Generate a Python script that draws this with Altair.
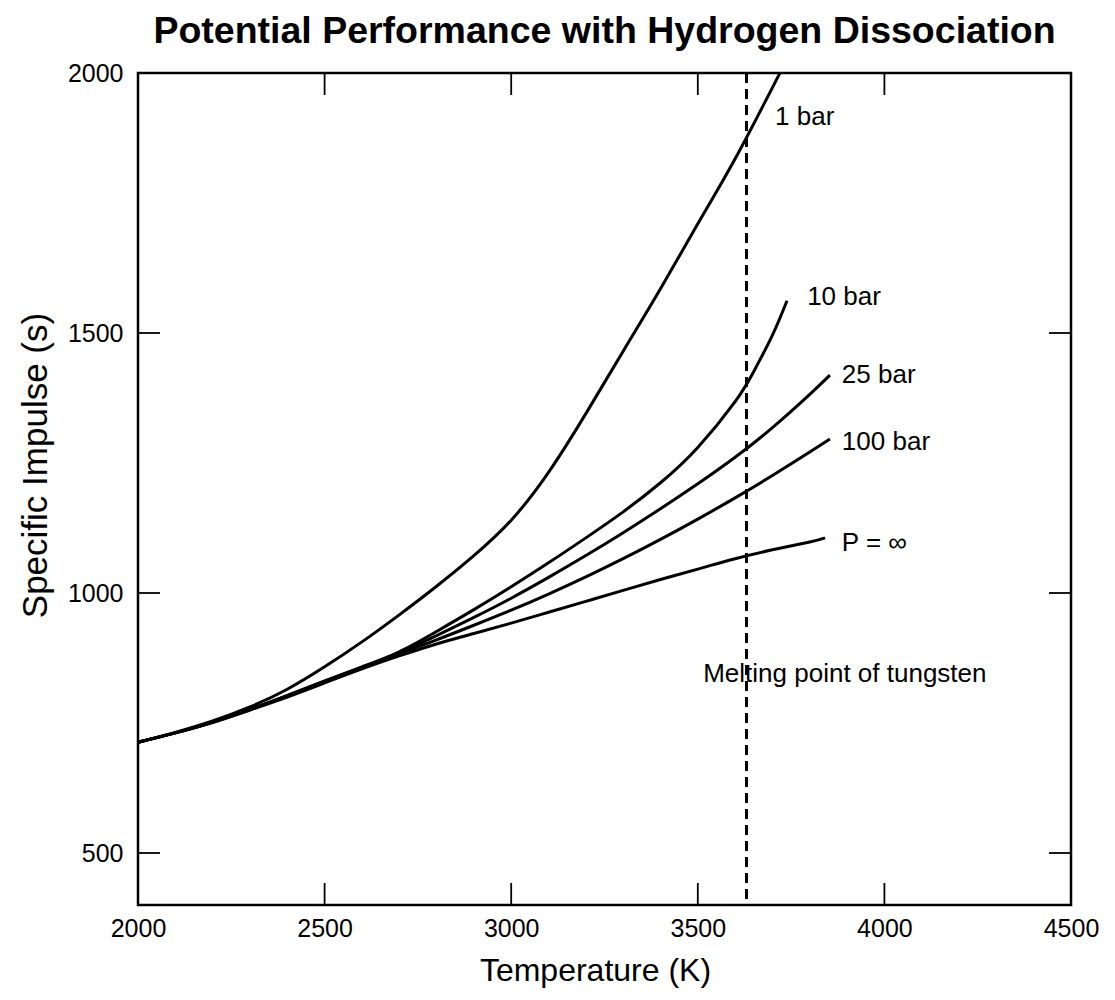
import altair as alt
import pandas as pd

# ---------------- data ----------------
temp_1bar = [2000, 2100, 2200, 2300, 2400, 2500, 2600, 2700, 2800, 2900, 3000, 3100, 3200, 3300, 3400, 3500, 3600, 3720]
isp_1bar = [713, 732, 754, 781, 815, 858, 906, 958, 1013, 1072, 1140, 1232, 1345, 1465, 1585, 1710, 1835, 2000]

temp_10bar = [2000, 2100, 2200, 2300, 2400, 2500, 2600, 2700, 2800, 2900, 3000, 3100, 3200, 3300, 3400, 3500, 3600, 3650, 3700, 3739]
isp_10bar = [713, 731, 752, 776, 803, 831, 858, 887, 926, 968, 1012, 1058, 1106, 1156, 1212, 1280, 1368, 1426, 1496, 1562]

temp_25bar = [2000, 2100, 2200, 2300, 2400, 2500, 2600, 2700, 2800, 2900, 3000, 3100, 3200, 3300, 3400, 3500, 3600, 3700, 3800, 3854]
isp_25bar = [713, 731, 752, 776, 802, 830, 857, 885, 918, 953, 990, 1030, 1072, 1116, 1162, 1210, 1261, 1318, 1382, 1419]

temp_100bar = [2000, 2100, 2200, 2300, 2400, 2500, 2600, 2700, 2800, 2900, 3000, 3100, 3200, 3300, 3400, 3500, 3600, 3700, 3800, 3854]
isp_100bar = [713, 731, 752, 776, 802, 829, 855, 883, 910, 938, 967, 998, 1031, 1066, 1103, 1142, 1183, 1226, 1271, 1296]

temp_inf = [2000, 2100, 2200, 2300, 2400, 2500, 2600, 2700, 2800, 2900, 3000, 3100, 3200, 3300, 3400, 3500, 3600, 3700, 3800, 3841]
isp_inf = [713, 731, 751, 775, 800, 827, 854, 879, 902, 922, 942, 963, 984, 1005, 1026, 1046, 1066, 1083, 1098, 1106]

label_text = ["1 bar", "10 bar", "25 bar", "100 bar", "P = \u221e"]
label_temp = [3707, 3793, 3886, 3886, 3886]
label_isp = [1915, 1569, 1419, 1290, 1096]

melt_temp = 3630
melt_label = "Melting point of tungsten"
melt_label_temp = 3894
melt_label_isp = 844

x_labels = [2000, 2500, 3000, 3500, 4000, 4500]
y_labels = [500, 1000, 1500, 2000]
x_ticks = [2500, 3000, 3500, 4000]
y_ticks = [500, 1000, 1500]

# ---------------- build tables ----------------
rows = []
for name, ts, vs in [("1 bar", temp_1bar, isp_1bar), ("10 bar", temp_10bar, isp_10bar),
                     ("25 bar", temp_25bar, isp_25bar), ("100 bar", temp_100bar, isp_100bar),
                     ("inf", temp_inf, isp_inf)]:
    for t, v in zip(ts, vs):
        rows.append({"series": name, "temp": t, "isp": v})
df = pd.DataFrame(rows)
labels_df = pd.DataFrame({"label": label_text, "temp": label_temp, "isp": label_isp})
melt_df = pd.DataFrame({"label": [melt_label], "temp": [melt_label_temp], "isp": [melt_label_isp]})
xt_df = pd.DataFrame({"temp": x_ticks})
yt_df = pd.DataFrame({"isp": y_ticks})

W, H = 933, 832
FONT = "Liberation Sans"
TL = 22

xscale = alt.Scale(domain=[2000, 4500], nice=False, zero=False)
yscale = alt.Scale(domain=[400, 2000], nice=False, zero=False)

lines = alt.Chart(df).mark_line(strokeWidth=3, color="black", interpolate="natural").encode(
    x=alt.X("temp:Q", scale=xscale,
            axis=alt.Axis(values=x_labels, format="d", ticks=False, tickSize=0, domain=False, grid=False,
                          labelFontSize=25, labelPadding=11, labelFlush=False, labelColor="black",
                          labelFont=FONT, title="Temperature (K)", titleFont=FONT, titleFontSize=32,
                          titleFontWeight="normal", titlePadding=14, titleColor="black", titleX=457)),
    y=alt.Y("isp:Q", scale=yscale,
            axis=alt.Axis(values=y_labels, format="d", ticks=False, tickSize=0, domain=False, grid=False,
                          labelFontSize=25, labelPadding=15, labelFlush=False, labelColor="black",
                          labelFont=FONT, title="Specific Impulse (s)", titleFont=FONT, titleFontSize=35,
                          titleFontWeight="normal", titlePadding=14, titleColor="black", titleY=392)),
    detail="series:N",
)

melt_line = alt.Chart(df).mark_rule(color="black", strokeWidth=1.6, strokeDash=[10, 6]).encode(
    x=alt.datum(melt_temp)
)

tick_b = alt.Chart(xt_df).mark_rule(color="black", strokeWidth=1.8).encode(
    x="temp:Q", y=alt.value(H - TL), y2=alt.value(H))
tick_t = alt.Chart(xt_df).mark_rule(color="black", strokeWidth=1.8).encode(
    x="temp:Q", y=alt.value(0), y2=alt.value(TL))
tick_l = alt.Chart(yt_df).mark_rule(color="black", strokeWidth=1.8).encode(
    y="isp:Q", x=alt.value(0), x2=alt.value(TL))
tick_r = alt.Chart(yt_df).mark_rule(color="black", strokeWidth=1.8).encode(
    y="isp:Q", x=alt.value(W - TL), x2=alt.value(W))

text = alt.Chart(labels_df).mark_text(align="left", baseline="middle", fontSize=26, font=FONT, color="black").encode(
    x="temp:Q", y="isp:Q", text="label:N")
melt_text = alt.Chart(melt_df).mark_text(align="center", baseline="middle", fontSize=26, font=FONT, color="black").encode(
    x="temp:Q", y="isp:Q", text="label:N")

chart = alt.layer(lines, melt_line, tick_b, tick_t, tick_l, tick_r, text, melt_text).properties(
    width=W, height=H,
    title=alt.TitleParams(text="Potential Performance with Hydrogen Dissociation", font=FONT, fontSize=37.5,
                          fontWeight="bold", anchor="middle", offset=11, color="black"),
    autosize=alt.AutoSizeParams(type="none"),
    padding={"left": 130, "top": 65, "right": 30, "bottom": 90},
).configure_view(stroke="black", strokeWidth=2.5)

chart.save("out.html", embed_options={"renderer": "svg", "actions": False})
